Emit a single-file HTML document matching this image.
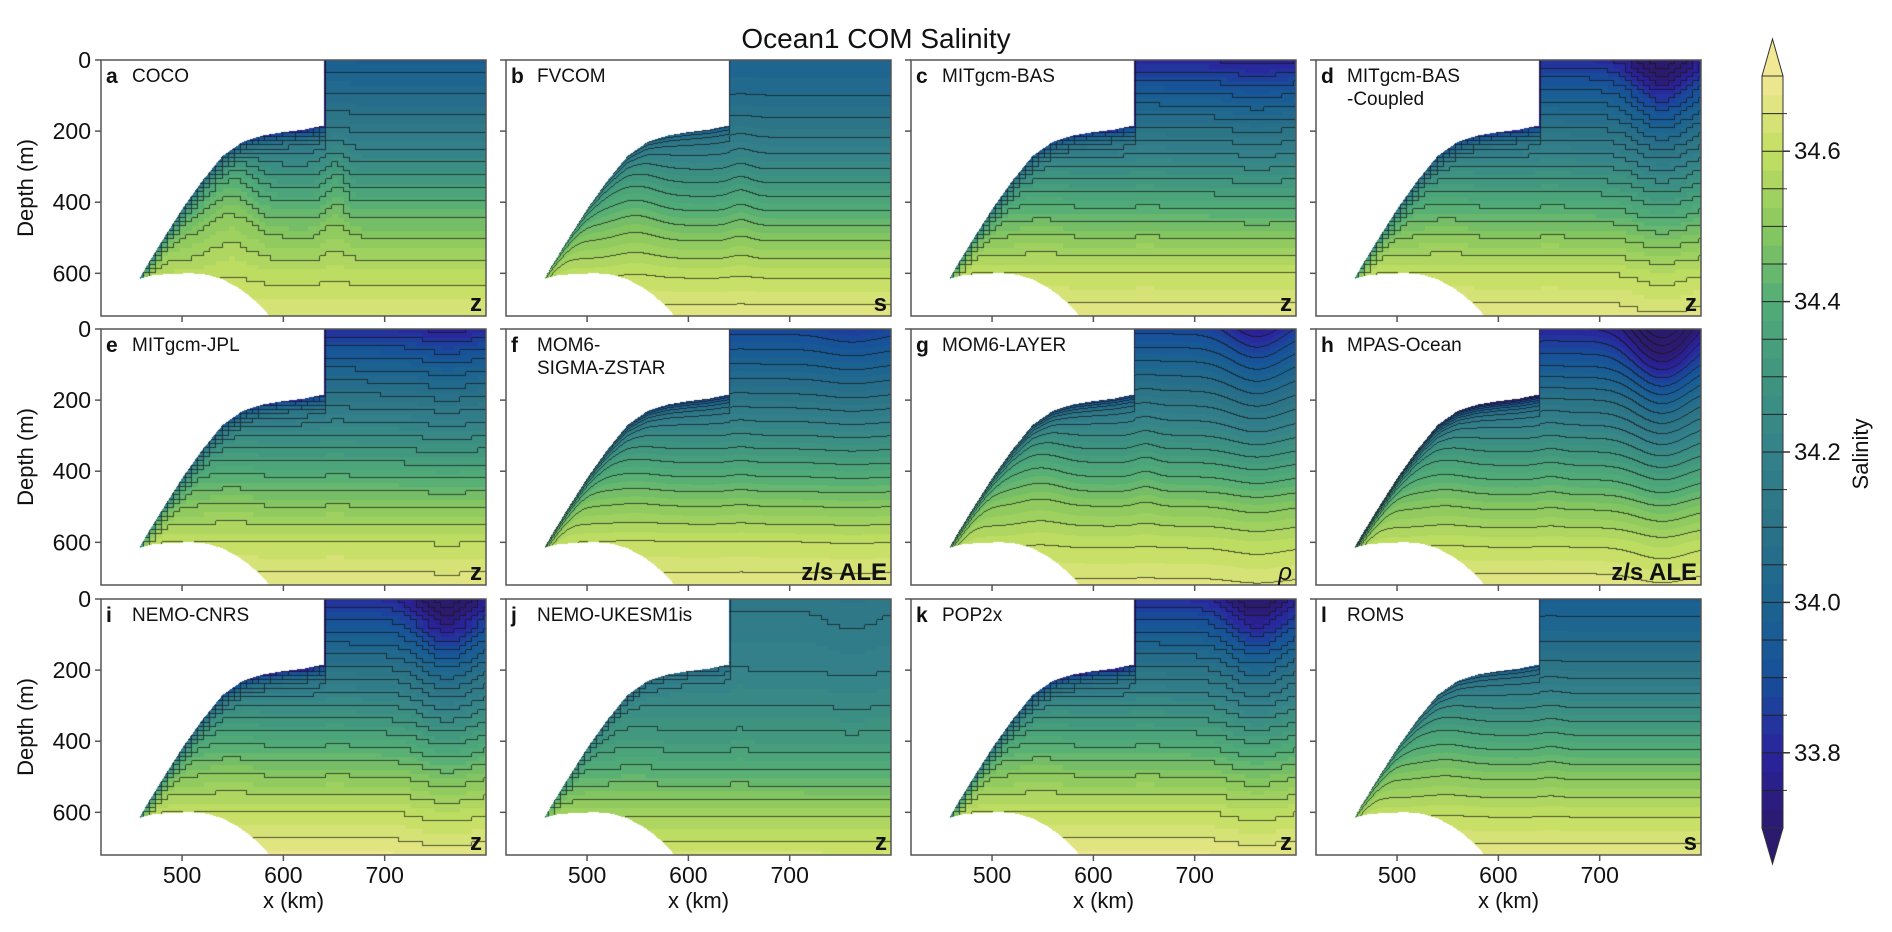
<!DOCTYPE html>
<html><head><meta charset="utf-8">
<style>
html,body{margin:0;padding:0;background:#fff;}
#wrap{position:relative;width:1892px;height:932px;overflow:hidden;}
canvas,svg{position:absolute;left:0;top:0;}
text{font-family:"Liberation Sans",sans-serif;fill:#111;}
</style></head>
<body>
<div id="wrap">
<canvas id="cv" width="1892" height="932"></canvas>
<svg id="sv" width="1892" height="932" xmlns="http://www.w3.org/2000/svg">
<text x="876" y="48" text-anchor="middle" font-size="28">Ocean1 COM Salinity</text>
</svg>
</div>
<script>
// ---- data ----
const panelLetters = ['a','b','c','d','e','f','g','h','i','j','k','l'];
const panelNames = [['COCO'],['FVCOM'],['MITgcm-BAS'],['MITgcm-BAS','-Coupled'],['MITgcm-JPL'],['MOM6-','SIGMA-ZSTAR'],['MOM6-LAYER'],['MPAS-Ocean'],['NEMO-CNRS'],['NEMO-UKESM1is'],['POP2x'],['ROMS']];
const vertCoords = ['z','s','z','z','z','z/s ALE','ρ','z/s ALE','z','z','z','s'];
const profileDepths = [0,100,200,300,400,500,600,720];
const profA = [33.97,34.05,34.14,34.26,34.40,34.50,34.58,34.65];
const profB = [34.00,34.05,34.13,34.24,34.37,34.49,34.59,34.67];
const profC = [33.80,33.96,34.11,34.25,34.38,34.50,34.60,34.67];
const profD = [33.82,33.97,34.11,34.25,34.38,34.50,34.60,34.67];
const profE = [33.82,33.98,34.12,34.25,34.38,34.50,34.60,34.67];
const profF = [33.88,34.00,34.12,34.25,34.38,34.50,34.60,34.67];
const profG = [33.88,34.01,34.13,34.25,34.38,34.50,34.59,34.66];
const profH = [33.80,33.94,34.10,34.24,34.37,34.49,34.59,34.67];
const profI = [33.82,33.96,34.11,34.25,34.38,34.50,34.60,34.68];
const profJ = [34.14,34.17,34.20,34.25,34.32,34.42,34.54,34.63];
const profK = [33.82,33.96,34.11,34.25,34.38,34.50,34.60,34.68];
const profL = [33.97,34.03,34.12,34.24,34.37,34.49,34.59,34.67];
const profiles = [profA,profB,profC,profD,profE,profF,profG,profH,profI,profJ,profK,profL];
const plumeAmp = [0,0,0.03,0.22,0.04,0.03,0.12,0.26,0.22,0.02,0.18,0];
const iceAmp = [0.35,0.15,0.30,0.30,0.30,0.25,0.25,0.35,0.35,0.15,0.35,0.15];
const upliftAmp = [70,30,10,10,10,10,25,15,10,10,10,15];
const iceX = [458,465,480,500,520,540,560,580,600,620,639];
const iceZ = [615,580,510,420,340,270,230,212,203,196,185];
const bedX = [455,470,490,510,525,540,555,565,575,585,595,620];
const bedZ = [618,606,601,600,604,617,640,660,685,715,760,800];
const xTicks = [500,600,700];
const yTicks = [0,200,400,600];
const cbTicks = [33.8,34.0,34.2,34.4,34.6];
const cmapPos = [33.7,33.8,33.9,34.0,34.1,34.2,34.3,34.4,34.5,34.6,34.7];
const cmapCol = ['#2b1a6e','#2a239e','#17509a','#1c6490','#2b7387','#34818a','#3f957f','#52ad77','#8ac85e','#c3df62','#f2e894'];

// ---- layout ----
const colLeft=[101,506,911,1316], rowTop=[60,329,599], PW=385, PH=256;
const X0=420,X1=800,Z1=720;
const sx=(p,v)=>colLeft[p%4]+(v-X0)/(X1-X0)*PW;
const sy=(p,v)=>rowTop[Math.floor(p/4)]+v/Z1*PH;

function sq(v){return v*v;}
function interp(xs,ys,x){if(x<=xs[0])return ys[0];for(let i=1;i<xs.length;i++){if(x<=xs[i]){const t=(x-xs[i-1])/(xs[i]-xs[i-1]);return ys[i-1]+t*(ys[i]-ys[i-1]);}}return ys[ys.length-1];}
function hex(c){return [parseInt(c.substr(1,2),16),parseInt(c.substr(3,2),16),parseInt(c.substr(5,2),16)];}
const cmRGB=cmapCol.map(hex);
function cmap(s){s=Math.max(33.7,Math.min(34.7,s));for(let i=1;i<cmapPos.length;i++){if(s<=cmapPos[i]){const t=(s-cmapPos[i-1])/(cmapPos[i]-cmapPos[i-1]);const a=cmRGB[i-1],b=cmRGB[i];return [a[0]+t*(b[0]-a[0]),a[1]+t*(b[1]-a[1]),a[2]+t*(b[2]-a[2])];}}return cmRGB[cmRGB.length-1];}
function inWater(x,z){if(x<458)return false;if(x<640&&z<interp(iceX,iceZ,x))return false;if(z>interp(bedX,bedZ,x))return false;return true;}
function field(p,x,z){
  const v=vertCoords[p];
  if(v==='z'){x=Math.floor(x/6)*6+3;z=Math.floor(z/12)*12+6;}
  const up=upliftAmp[p]*(Math.exp(-sq((x-548)/28))+0.6*Math.exp(-sq((x-652)/14)))*Math.exp(-sq((z-380)/220));
  let s=interp(profileDepths,profiles[p],z+up);
  if(x<641){const d=Math.max(0,z-interp(iceX,iceZ,x));s-=iceAmp[p]*Math.exp(-d/22);}
  s-=plumeAmp[p]*Math.exp(-sq((x-762)/32))*Math.exp(-z/260);
  return s;
}
// ---- draw fields ----
const ctx=document.getElementById('cv').getContext('2d');
for(let p=0;p<12;p++){
  const L=colLeft[p%4],T=rowTop[Math.floor(p/4)];
  const img=ctx.createImageData(PW,PH);
  const S=new Float32Array(PW*PH), W=new Uint8Array(PW*PH);
  for(let j=0;j<PH;j++)for(let i=0;i<PW;i++){
    const x=X0+(i+0.5)/PW*(X1-X0), z=(j+0.5)/PH*Z1;
    const k=j*PW+i;
    if(inWater(x,z)){W[k]=1;S[k]=field(p,x,z);}
  }
  for(let j=0;j<PH;j++)for(let i=0;i<PW;i++){
    const k=j*PW+i, o=k*4;
    if(!W[k]){img.data[o]=255;img.data[o+1]=255;img.data[o+2]=255;img.data[o+3]=255;continue;}
    const q=Math.floor((S[k]-33.7)/0.025);
    let c=cmap(33.7+(q+0.5)*0.025);
    const lv=Math.floor((S[k]-33.7)/0.05);
    let line=false;
    if(i+1<PW&&W[k+1]&&Math.floor((S[k+1]-33.7)/0.05)!==lv)line=true;
    if(j+1<PH&&W[k+PW]&&Math.floor((S[k+PW]-33.7)/0.05)!==lv)line=true;
    if(line)c=[c[0]*0.3+15,c[1]*0.3+15,c[2]*0.3+15];
    img.data[o]=c[0];img.data[o+1]=c[1];img.data[o+2]=c[2];img.data[o+3]=255;
  }
  ctx.putImageData(img,L,T);
}
// ---- svg overlay ----
const NS='http://www.w3.org/2000/svg', sv=document.getElementById('sv');
function mk(tag,attrs,parent){const e=document.createElementNS(NS,tag);for(const k in attrs)e.setAttribute(k,attrs[k]);(parent||sv).appendChild(e);return e;}
for(let p=0;p<12;p++){
  const L=colLeft[p%4],T=rowTop[Math.floor(p/4)],c=p%4,r=Math.floor(p/4);
  const g=mk('g',{});
  
  
  const fr=mk('rect',{x:L,y:T,width:PW,height:PH,fill:'none',stroke:'#555','stroke-width':1.5},g);
  
  
  for(const v of xTicks){
    const tx=sx(p,v);
    const tk=mk('line',{x1:tx,x2:tx,y1:T+PH,y2:T+PH+6,stroke:'#555','stroke-width':1.5},g);
    
    
    if(r===2){const t=mk('text',{x:tx,y:T+PH+28,'text-anchor':'middle','font-size':23},g);t.textContent=v;
      
      }
  }
  for(const v of yTicks){
    const ty=sy(p,v);
    const tk=mk('line',{x1:L-6,x2:L,y1:ty,y2:ty,stroke:'#555','stroke-width':1.5},g);
    
    
    if(c===0){const t=mk('text',{x:L-10,y:ty+8,'text-anchor':'end','font-size':23},g);t.textContent=v;
      
      }
  }
  const lt=mk('text',{x:L+5,y:T+23,'font-size':21,'font-weight':'bold'},g);lt.textContent=panelLetters[p];
  
  
  panelNames[p].forEach((nm,idx)=>{const t=mk('text',{x:L+31,y:T+22+idx*23,'font-size':19},g);t.textContent=nm;
    
    });
  const vc=vertCoords[p];
  const ct=mk('text',{x:L+PW-4,y:T+PH-5,'text-anchor':'end','font-size':24,'font-weight':vc==='ρ'?'normal':'bold','font-style':vc==='ρ'?'italic':'normal'},g);ct.textContent=vc;
  
  
  if(c===0){const t=mk('text',{x:0,y:0,'text-anchor':'middle','font-size':22,transform:`translate(33,${T+PH/2}) rotate(-90)`},g);t.textContent='Depth (m)';
    
    }
  if(r===2){const t=mk('text',{x:L+PW/2,y:T+PH+53,'text-anchor':'middle','font-size':22},g);t.textContent='x (km)';
    
    }
}
// ---- colorbar ----
const cbX=1762,cbW=21,cbTop=76,cbBot=828;
const cy=v=>cbBot-(v-33.7)/1.0*(cbBot-cbTop);
const cb=mk('g',{});


for(let k=0;k<40;k++){
  const v0=33.7+k*0.025, col=cmap(v0+0.0125);
  const rr=mk('rect',{x:cbX,y:cy(v0+0.025),width:cbW,height:cy(v0)-cy(v0+0.025)+0.5,fill:`rgb(${col.map(Math.round).join(',')})`},cb);
  
  
}
for(let k=1;k<20;k++){const v=33.7+k*0.05;const y=cy(v);
  const l=mk('line',{x1:cbX,x2:cbX+cbW,y1:y,y2:y,stroke:'#222','stroke-width':1},cb);
  
  
  const t=mk('line',{x1:cbX+cbW,x2:cbX+cbW+4,y1:y,y2:y,stroke:'#333','stroke-width':1},cb);
  
  }
const topC=cmap(34.7).map(Math.round).join(','), botC=cmap(33.7).map(Math.round).join(',');
const te=mk('polygon',{points:`${cbX},${cbTop} ${cbX+cbW/2},39 ${cbX+cbW},${cbTop}`,fill:`rgb(${topC})`,stroke:'#333','stroke-width':1},cb);


const be=mk('polygon',{points:`${cbX},${cbBot} ${cbX+cbW/2},864 ${cbX+cbW},${cbBot}`,fill:`rgb(${botC})`,stroke:'#333','stroke-width':1},cb);


const cbf=mk('rect',{x:cbX,y:cbTop,width:cbW,height:cbBot-cbTop,fill:'none',stroke:'#333','stroke-width':1},cb);


for(const v of cbTicks){const y=cy(v);
  const tk=mk('line',{x1:cbX+cbW,x2:cbX+cbW+7,y1:y,y2:y,stroke:'#333','stroke-width':1.5},cb);
  
  
  const t=mk('text',{x:1794,y:y+8,'font-size':24},cb);t.textContent=v.toFixed(1);
  
  }
const st=mk('text',{x:0,y:0,'text-anchor':'middle','font-size':22,transform:'translate(1868,454) rotate(-90)'},cb);st.textContent='Salinity';


</script>
</body></html>
